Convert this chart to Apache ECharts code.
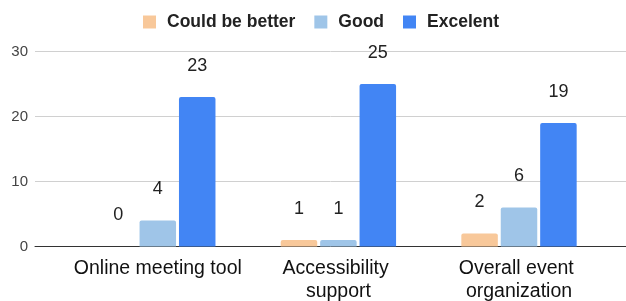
<!DOCTYPE html>
<html><head><meta charset="utf-8">
<script src="https://cdn.jsdelivr.net/npm/echarts@6/dist/echarts.min.js"></script>
<style>html,body{margin:0;padding:0;background:#fff}#c{width:626px;height:301px}</style>
</head><body><div id="c"></div>
<script>
var categories = ["Online meeting tool", "Accessibility support", "Overall event organization"];
var seriesNames = ["Could be better", "Good", "Excelent"];
var couldBeBetter = [0, 1, 2];
var good = [4, 1, 6];
var excelent = [23, 25, 19];
var yTicks = [0, 10, 20, 30];
var colors = ["#f8c89a", "#9fc5e8", "#4285f4"];

var chart = echarts.init(document.getElementById('c'), null, {renderer: 'canvas'});
var F = '"Liberation Sans", Arial, sans-serif';
var TOP = 51.5, BOTTOM = 301 - 246.5;
function bar(name, data, color) {
  return {
    name: name, type: 'bar', data: data, xAxisIndex: 1, yAxisIndex: 1,
    barWidth: 36.5, barGap: '8%',
    itemStyle: {color: color, borderRadius: [2, 2, 0, 0]},
    label: {show: true, position: 'top', distance: 22, color: '#222', fontSize: 18, fontFamily: F},
    emphasis: {disabled: true}
  };
}
chart.setOption({
  animation: false,
  color: colors,
  legend: {
    top: 8, left: 138, itemWidth: 13, itemHeight: 13, itemGap: 19,
    icon: 'rect',
    textStyle: {fontSize: 17.5, fontWeight: 'bold', color: '#222', fontFamily: F, padding: [0, 0, 0, 6]},
    data: seriesNames
  },
  grid: [
    {left: 35, right: 0, top: TOP, bottom: BOTTOM, containLabel: false, outerBoundsMode: 'none'},
    {left: 67.5, right: 16.7, top: TOP, bottom: BOTTOM, containLabel: false, outerBoundsMode: 'none'}
  ],
  xAxis: [
    {gridIndex: 0, type: 'value', min: 0, max: 1,
     axisLine: {show: true, lineStyle: {color: '#333', width: 1}},
     axisTick: {show: false}, axisLabel: {show: false}, splitLine: {show: false}},
    {gridIndex: 1, type: 'category', data: categories,
     axisLine: {show: false}, axisTick: {show: false},
     axisLabel: {color: '#111', fontSize: 19.5, fontFamily: F, margin: 11, lineHeight: 23,
                 width: 173, overflow: 'break', interval: 0}}
  ],
  yAxis: [
    {gridIndex: 0, type: 'value', min: yTicks[0], max: yTicks[yTicks.length - 1], interval: 10,
     axisLine: {show: false}, axisTick: {show: false},
     axisLabel: {color: '#444', fontSize: 15, fontFamily: F, margin: 7},
     splitLine: {lineStyle: {color: '#d0d0d0', width: 1}}},
    {gridIndex: 1, type: 'value', min: yTicks[0], max: yTicks[yTicks.length - 1], interval: 10, show: false}
  ],
  series: [
    bar(seriesNames[0], couldBeBetter, colors[0]),
    bar(seriesNames[1], good, colors[1]),
    bar(seriesNames[2], excelent, colors[2])
  ]
});
</script></body></html>
